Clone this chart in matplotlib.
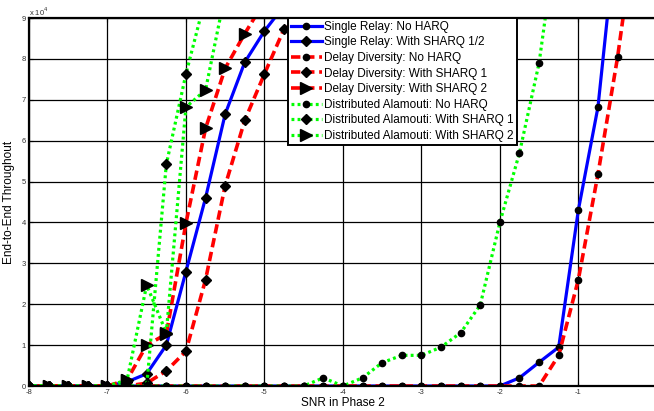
import numpy as np
import matplotlib
matplotlib.use("Agg")
import matplotlib.pyplot as plt
from matplotlib.ticker import FixedLocator, FuncFormatter

plt.rcParams['font.family'] = ['Liberation Sans', 'DejaVu Sans']

# SNR grid (dB), 0.25 steps; first point sits just left of the visible range
snr = [-8.25 + 0.25 * i for i in range(34)]

SCALE = 1e4  # throughput values below are in units of 10^4

# Single Relay
sr_no_harq = [0] * 26 + [0.2, 0.58, 0.95, 4.3, 6.82, 11.4]
sr_sharq = [0] * 6 + [0.1, 0.3, 1.0, 2.8, 4.6, 6.65, 7.92, 8.68, 9.3]

# Delay Diversity
dd_no_harq = [0] * 28 + [0.75, 2.6, 5.18, 8.04, 11.5]
dd_sharq1 = [0] * 7 + [0.07, 0.37, 0.85, 2.6, 4.9, 6.5, 7.63, 8.73, 9.5]
dd_sharq2 = [0] * 6 + [0.15, 1.0, 1.27, 3.98, 6.3, 7.77, 8.62, 9.4]

# Distributed Alamouti
da_no_harq = [0] * 16 + [0.2, 0, 0.2, 0.57, 0.75, 0.75, 0.95, 1.3, 1.98,
                         4.0, 5.7, 7.9, 11.4]
da_sharq1 = [0] * 8 + [5.42, 7.63, 9.5]
da_sharq2 = [0] * 6 + [0.15, 2.47, 1.3, 6.82, 7.24, 9.6]

labels = ["Single Relay: No HARQ",
          "Single Relay: With SHARQ 1/2",
          "Delay Diversity: No HARQ",
          "Delay Diversity: With SHARQ 1",
          "Delay Diversity: With SHARQ 2",
          "Distributed Alamouti: No HARQ",
          "Distributed Alamouti: With SHARQ 1",
          "Distributed Alamouti: With SHARQ 2"]

series = [sr_no_harq, sr_sharq, dd_no_harq, dd_sharq1, dd_sharq2,
          da_no_harq, da_sharq1, da_sharq2]

blue, red, green = '#0000ff', '#ff0000', '#00ff00'
dash = (0, (2.6, 1.3))
dot = (0, (0.9, 1.0))
styles = [
    dict(color=blue, ls='-', lw=2.3, marker='o', ms=4.5),
    dict(color=blue, ls='-', lw=2.3, marker='D', ms=5.5),
    dict(color=red, ls=dash, lw=2.6, marker='o', ms=4.5),
    dict(color=red, ls=dash, lw=2.6, marker='D', ms=5.5),
    dict(color=red, ls=dash, lw=2.6, marker='>', ms=8),
    dict(color=green, ls=dot, lw=2.3, marker='o', ms=4.5),
    dict(color=green, ls=dot, lw=2.3, marker='D', ms=5.5),
    dict(color=green, ls=dot, lw=2.3, marker='>', ms=8),
]

fig = plt.figure(figsize=(6.54, 4.11), dpi=100)
ax = fig.add_axes([0.0443, 0.0608, 0.9600, 0.8954])

for y, lab, st in zip(series, labels, styles):
    yy = np.array(y) * SCALE
    ax.plot(snr[:len(yy)], yy, label=lab, mfc='black', mec='black', **st)

ax.set_xlim(-8, 0)
ax.set_ylim(0, 9 * SCALE)
ax.xaxis.set_major_locator(FixedLocator(range(-8, 0)))
ax.yaxis.set_major_locator(FixedLocator([k * SCALE for k in range(10)]))
ax.yaxis.set_major_formatter(FuncFormatter(lambda v, p: "%d" % round(v / SCALE)))
ax.xaxis.set_major_formatter(FuncFormatter(lambda v, p: "%d" % v))
ax.tick_params(direction='in', length=3, width=0.8, labelsize=5.5,
               top=True, right=False, colors='black', labelcolor='#333333', pad=2)
ax.grid(True, color='black', lw=0.9)
ax.set_axisbelow(True)
for s in ax.spines.values():
    s.set_linewidth(1.6)
    s.set_color('black')
ax.spines['right'].set_visible(False)

fig.text(0.044, 0.972, r"x 10$^4$", fontsize=5.5, color='#333333',
         ha='left', va='center')
ax.set_xlabel("SNR in Phase 2", fontsize=8.5, labelpad=1)
ax.set_ylabel("End-to-End Throughout", fontsize=8.5, labelpad=5)

leg = ax.legend(loc='upper left', bbox_to_anchor=(0.4125, 1.0), borderaxespad=0,
                fontsize=8.5, numpoints=1, handlelength=2.6, handletextpad=0.2,
                labelspacing=0.3, borderpad=0.25, fancybox=False, framealpha=1)
leg.get_frame().set_edgecolor('black')
leg.get_frame().set_linewidth(1.4)

fig.savefig("out.png", dpi=100)
